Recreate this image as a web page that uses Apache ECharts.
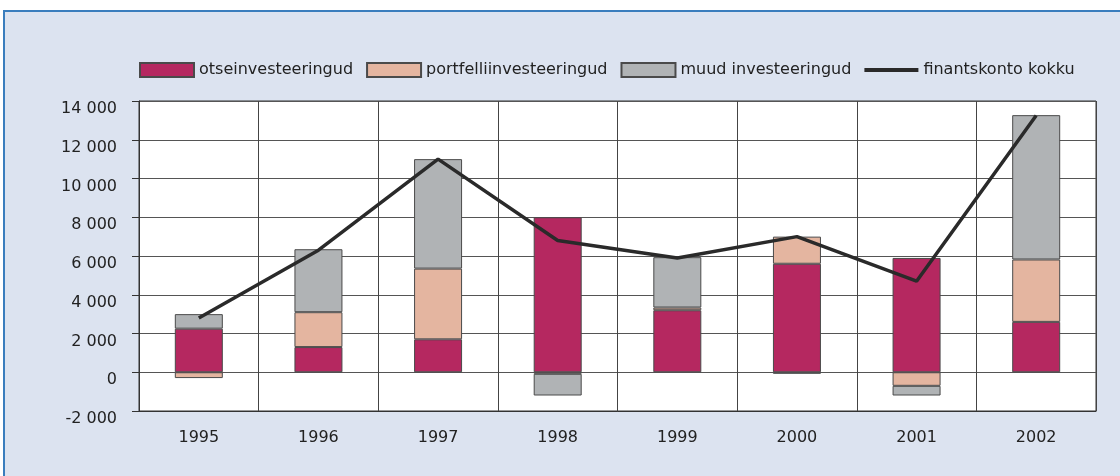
<!DOCTYPE html>
<html>
<head>
<meta charset="utf-8">
<script src="https://cdn.jsdelivr.net/npm/echarts@6/dist/echarts.min.js"></script>
<style>
  body { margin: 0; background: #fff; }
  #frame { position: absolute; left: 3px; top: 10px; width: 1130px; height: 480px;
           border-top: 2px solid #3a7dbd; border-left: 2px solid #3a7dbd; background: #dce3f0; }
  #main { position: absolute; left: 0; top: 0; width: 1120px; height: 476px; }
</style>
</head>
<body>
<div id="frame"></div>
<div id="main"></div>
<script>
var years = ['1995', '1996', '1997', '1998', '1999', '2000', '2001', '2002'];
var otse = [2250, 1300, 1700, 8000, 3200, 5600, 5900, 2600];
var portfell = [-300, 1800, 3650, -80, 140, 1400, -700, 3220];
var muud = [750, 3250, 5650, -1120, 2600, -80, -500, 7450];
var kokku = [2800, 6300, 11000, 6800, 5900, 7000, 4700, 13250];

var font = 'DejaVu Sans';
var dom = document.getElementById('main');
var myChart = echarts.init(dom, null, { renderer: 'canvas' });

function fmt(v) {
  var s = String(Math.abs(v));
  if (s.length > 3) s = s.slice(0, s.length - 3) + ' ' + s.slice(-3);
  return (v < 0 ? '-' : '') + s;
}

var option = {
  animation: false,
  textStyle: { fontFamily: font },
  legend: {
    left: 134,
    top: 57,
    itemWidth: 54,
    itemHeight: 14,
    itemGap: 13,
    symbolKeepAspect: true,
    textStyle: { fontFamily: font, fontSize: 16, color: '#222' },
    data: [
      { name: 'otseinvesteeringud', icon: 'rect' },
      { name: 'portfelliinvesteeringud', icon: 'rect' },
      { name: 'muud investeeringud', icon: 'rect' },
      { name: 'finantskonto kokku', icon: 'path://M0,0L54,0L54,4L0,4Z',
        itemStyle: { color: '#2a2a2a', borderWidth: 0 } }
    ]
  },
  grid: {
    left: 139, top: 101, right: 24, bottom: 65,
    show: true, backgroundColor: '#fff', borderColor: '#333', borderWidth: 1
  },
  xAxis: {
    type: 'category',
    data: years,
    axisLine: { onZero: false, lineStyle: { color: '#333' } },
    axisTick: { show: false },
    axisLabel: { fontFamily: font, fontSize: 16, color: '#222', margin: 19 },
    splitLine: { show: true, lineStyle: { color: '#444', width: 1 } }
  },
  yAxis: {
    type: 'value',
    min: -2000, max: 14000, interval: 2000,
    axisLine: { show: true, lineStyle: { color: '#333' } },
    axisTick: { show: true, length: 7, lineStyle: { color: '#333' } },
    axisLabel: { fontFamily: font, fontSize: 16, color: '#222', margin: 22,
                 verticalAlign: 'top', formatter: fmt },
    splitLine: { show: true, lineStyle: { color: '#555', width: 1 } }
  },
  series: [
    {
      name: 'otseinvesteeringud', type: 'bar', stack: 'a', barWidth: 48,
      itemStyle: { color: '#b52860', borderColor: '#4a4a4a', borderWidth: 1 },
      data: otse
    },
    {
      name: 'portfelliinvesteeringud', type: 'bar', stack: 'a', barWidth: 48,
      itemStyle: { color: '#e4b5a0', borderColor: '#4a4a4a', borderWidth: 1 },
      data: portfell
    },
    {
      name: 'muud investeeringud', type: 'bar', stack: 'a', barWidth: 48,
      itemStyle: { color: '#b0b3b5', borderColor: '#4a4a4a', borderWidth: 1 },
      data: muud
    },
    {
      name: 'finantskonto kokku', type: 'line', symbol: 'none', z: 5,
      lineStyle: { color: '#2a2a2a', width: 3.5 },
      itemStyle: { color: '#2a2a2a' },
      data: kokku
    }
  ]
};

myChart.setOption(option);
window.addEventListener('resize', myChart.resize);
</script>
</body>
</html>
